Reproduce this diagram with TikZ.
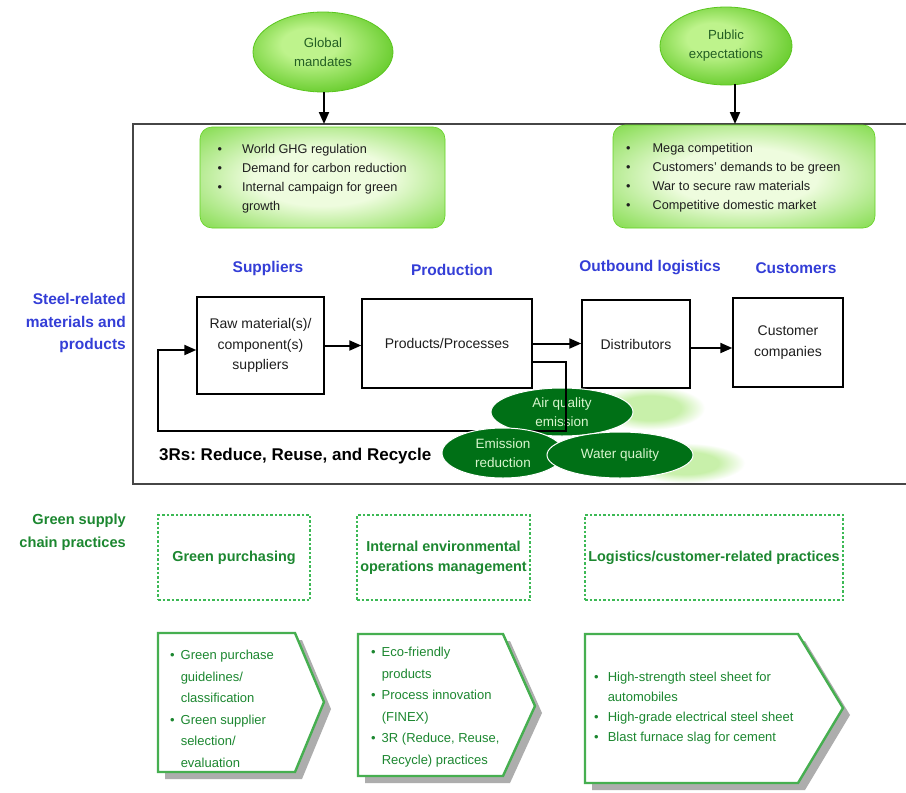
\documentclass[tikz,border=0pt]{standalone}
\usepackage{fontspec}
\setmainfont{Liberation Sans}
\usetikzlibrary{arrows.meta,shapes.geometric,calc}

\definecolor{hblue}{RGB}{52,62,215}
\definecolor{gtext}{RGB}{28,135,48}
\definecolor{dgreen}{RGB}{0,112,22}
\definecolor{etext}{RGB}{215,245,205}
\definecolor{pborder}{RGB}{70,175,80}
\definecolor{dborder}{RGB}{60,185,85}
\definecolor{frameg}{RGB}{70,70,70}
\definecolor{glowin}{RGB}{238,252,222}
\definecolor{glowout}{RGB}{100,210,35}
\definecolor{ballin}{RGB}{190,243,140}
\definecolor{ballout}{RGB}{90,198,30}
\definecolor{eltext}{RGB}{35,95,35}
\definecolor{haze}{RGB}{200,240,170}
\definecolor{dtext}{RGB}{30,30,30}

\pgfdeclareradialshading{boxglow}{\pgfpoint{0bp}{0bp}}{color(0bp)=(glowin); color(14bp)=(glowin); color(42bp)=(glowout); color(50bp)=(glowout)}
\pgfdeclareradialshading{ballglow}{\pgfpoint{-6bp}{6bp}}{color(0bp)=(ballin); color(10bp)=(ballin); color(32bp)=(ballout); color(50bp)=(ballout)}
\pgfdeclareradialshading{hazeglow}{\pgfpoint{0bp}{0bp}}{color(0bp)=(haze); color(14bp)=(haze); color(25bp)=(white); color(50bp)=(white)}

\tikzset{
  proc/.style={draw=black, line width=1.4pt, fill=white, align=center, text=dtext,
    font=\fontsize{14}{20.5}\selectfont, inner sep=0pt},
  hdr/.style={text=hblue, font=\bfseries\fontsize{15.5}{18}\selectfont, inner sep=0pt},
  flowarrow/.style={line width=2pt, line join=miter, -{Triangle[length=12pt,width=10pt]}},
  topell/.style={ellipse, shading=ballglow, draw=ballout, line width=0.8pt, align=center,
    text=eltext, font=\fontsize{13.2}{19}\selectfont, inner sep=0pt},
  gbox/.style={rectangle, rounded corners=12pt, shading=boxglow, draw=glowout, line width=0.6pt},
  effect/.style={ellipse, fill=dgreen, draw=white, line width=1pt, align=center, text=etext,
    font=\fontsize{13.5}{19}\selectfont, inner sep=0pt},
  practice/.style={draw=dborder, dash pattern=on 2.5pt off 2pt, line width=1.3pt, align=center,
    text=gtext, font=\bfseries\fontsize{14.4}{20}\selectfont, inner sep=0pt},
  arrowbox/.style={draw=pborder, line width=2.4pt, fill=white, line join=miter},
  boxshadow/.style={fill=black!32},
  topbullets/.style={anchor=west, inner sep=0pt, text=dtext, font=\fontsize{12.7}{19}\selectfont},
  lowbullets/.style={anchor=west, inner sep=0pt, text=gtext, font=\fontsize{13}{21.5}\selectfont},
}

\begin{document}
\frenchspacing
\begin{tikzpicture}[x=1pt,y=-1pt]
\useasboundingbox (0,0) rectangle (906,793);
\fill[white] (0,0) rectangle (906,793);

% haze behind effect ellipses
\path[shading=hazeglow] (650,408) ellipse (55pt and 22pt);
\path[shading=hazeglow] (685,463) ellipse (60pt and 20pt);

% frame
\draw[frameg, line width=2pt] (906,124) -- (133,124) -- (133,484) -- (906,484);

% drivers
\node[topell, minimum width=140pt, minimum height=80pt] (gm) at (323,52) {Global\\mandates};
\node[topell, minimum width=132pt, minimum height=78pt] (pe) at (726,46) {Public\\expectations};
\coordinate (gmin) at (324,124);
\coordinate (pein) at (735,124);
\draw[flowarrow] (gm.south -| gmin) -- (gmin);
\draw[flowarrow] ([yshift=1pt]pe.south -| pein) -- (pein);

% green boxes
\node[gbox, minimum width=245pt, minimum height=101pt] (gbl) at (322.5,177.5) {};
\node[gbox, minimum width=262pt, minimum height=103pt] (gbr) at (744,176.5) {};
\node[topbullets] (gbltext) at (217.5,178) {\begin{tabular}{@{}l@{\hspace{20pt}}l@{}}
\textbullet & World GHG regulation\\
\textbullet & Demand for carbon reduction\\
\textbullet & Internal campaign for green\\
 & growth\end{tabular}};
\node[topbullets] (gbrtext) at (626,177.5) {\begin{tabular}{@{}l@{\hspace{22pt}}l@{}}
\textbullet & Mega competition\\
\textbullet & Customers' demands to be green\\
\textbullet & War to secure raw materials\\
\textbullet & Competitive domestic market\end{tabular}};

% headers
\node[hdr] (hsup) at (268,268) {Suppliers};
\node[hdr] (hpro) at (452,270) {Production};
\node[hdr] (hout) at (650,268) {Outbound logistics};
\node[hdr] (hcus) at (796,268) {Customers};

% process boxes
\node[proc, minimum width=127pt, minimum height=97pt] (raw) at (260.5,345.5) {Raw material(s)/\\component(s)\\suppliers};
\node[proc, minimum width=170pt, minimum height=89pt] (prod) at (447,343.5) {Products/Processes};
\node[proc, minimum width=108pt, minimum height=88pt] (dist) at (636,344) {Distributors};
\node[proc, minimum width=110pt, minimum height=89pt] (cust) at (788,342.5) {Customer\\companies};

\draw[flowarrow] (raw.east) -- (raw.east -| prod.west);
\draw[flowarrow] (prod.east) -- (prod.east -| dist.west);
\draw[flowarrow] ([yshift=-4pt]dist.east) -- ([yshift=-4pt]dist.east -| cust.west);

% air quality ellipse
\node[effect, minimum width=142pt, minimum height=48pt] (air) at (562,412) {Air quality\\emission};

% feedback loop
\coordinate (lp1) at (566,362);
\coordinate (lp2) at (566,431);
\coordinate (lp3) at (158,431);
\coordinate (lp4) at (158,350);
\draw[flowarrow] (prod.east |- lp1) -- (lp1) -- (lp2) -- (lp3) -- (lp4) -- (lp4 -| raw.west);

% other effect ellipses
\node[effect, minimum width=122pt, minimum height=50pt] (emr) at (503,453) {Emission\\reduction};
\node[effect, minimum width=146pt, minimum height=46pt] (wq) at (620,455) {Water quality};

\node[anchor=west, inner sep=0pt, text=black, font=\bfseries\fontsize{17}{19}\selectfont] (threer) at (159,456) {3Rs: Reduce, Reuse, and Recycle};

% side labels
\node[anchor=east, align=right, inner sep=0pt, text=hblue, font=\bfseries\fontsize{15.5}{22.5}\selectfont] (lsteel) at (126,323) {Steel-related\\materials and\\products};
\node[anchor=east, align=right, inner sep=0pt, text=gtext, font=\bfseries\fontsize{14.6}{22.5}\selectfont] (lgreen) at (126,532) {Green supply\\chain practices};

% practice categories
\node[practice, minimum width=152pt, minimum height=85pt] (gp) at (234,557.5) {Green purchasing};
\node[practice, minimum width=173pt, minimum height=85pt] (ieom) at (443.5,557.5) {Internal environmental\\operations management};
\node[practice, minimum width=258pt, minimum height=85pt] (lcp) at (714,557.5) {Logistics/customer-related practices};

% practice arrows
\fill[boxshadow, shift={(7,7)}] (158,633) -- (295,633) -- (324,702) -- (295,772) -- (158,772) -- cycle;
\draw[arrowbox] (158,633) -- (295,633) -- (324,702) -- (295,772) -- (158,772) -- cycle;
\fill[boxshadow, shift={(7,7)}] (358,634) -- (503,634) -- (535,706) -- (503,776) -- (358,776) -- cycle;
\draw[arrowbox] (358,634) -- (503,634) -- (535,706) -- (503,776) -- (358,776) -- cycle;
\fill[boxshadow, shift={(7,7)}] (585,634) -- (798,634) -- (843,708) -- (798,783) -- (585,783) -- cycle;
\draw[arrowbox] (585,634) -- (798,634) -- (843,708) -- (798,783) -- (585,783) -- cycle;

\node[lowbullets] (p1t) at (170,709) {\begin{tabular}{@{}l@{\hspace{6pt}}l@{}}
\textbullet & Green purchase\\
 & guidelines/\\
 & classification\\
\textbullet & Green supplier\\
 & selection/\\
 & evaluation\end{tabular}};
\node[lowbullets] (p2t) at (371,706) {\begin{tabular}{@{}l@{\hspace{6pt}}l@{}}
\textbullet & Eco-friendly\\
 & products\\
\textbullet & Process innovation\\
 & (FINEX)\\
\textbullet & 3R (Reduce, Reuse,\\
 & Recycle) practices\end{tabular}};
\node[lowbullets, font=\fontsize{13}{20}\selectfont] (p3t) at (594,707) {\begin{tabular}{@{}l@{\hspace{9pt}}l@{}}
\textbullet & High-strength steel sheet for\\
 & automobiles\\
\textbullet & High-grade electrical steel sheet\\
\textbullet & Blast furnace slag for cement\end{tabular}};
\end{tikzpicture}
\end{document}
